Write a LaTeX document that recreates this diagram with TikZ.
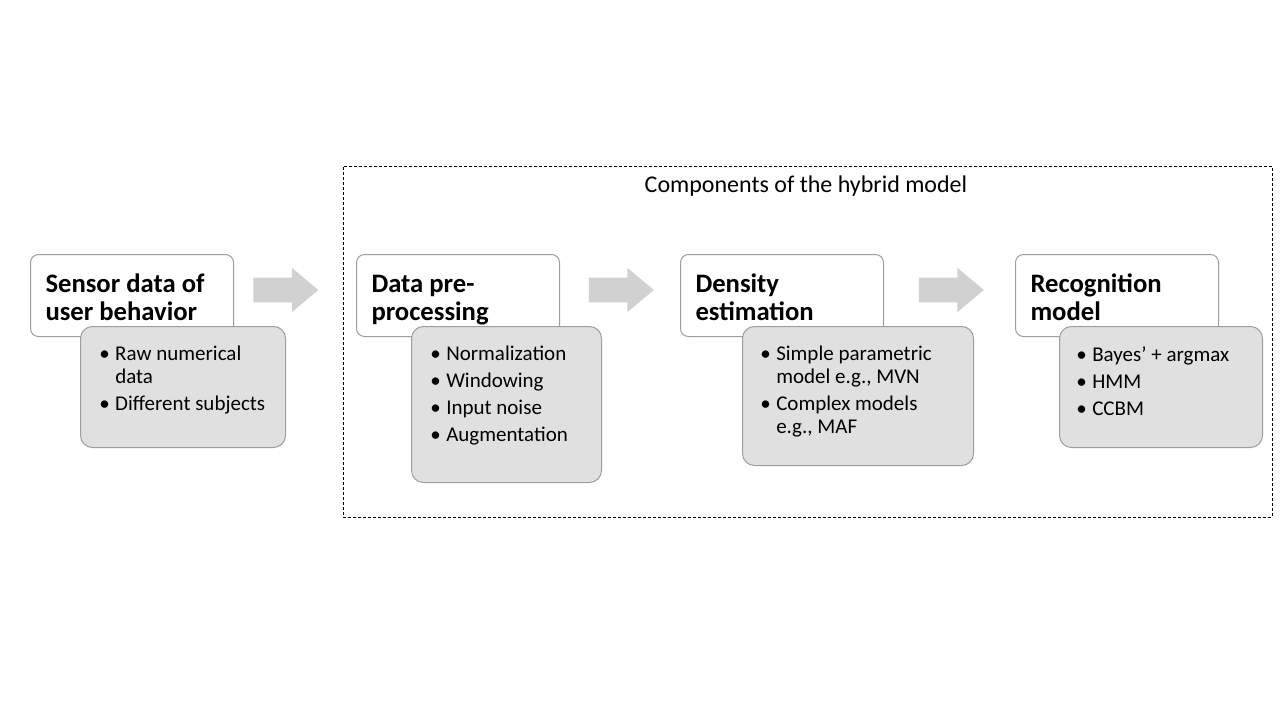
\documentclass[tikz,border=0pt]{standalone}
\usepackage{fontspec}
\setmainfont{Carlito}
\usetikzlibrary{positioning,calc,shapes.arrows}

\newcommand{\bitem}[1]{\makebox[12pt][l]{\textbullet}#1}
\newcommand{\bcont}[1]{\hspace*{12pt}#1}

\begin{document}
\begin{tikzpicture}[x=0.75pt, y=-0.75pt,
    stagebox/.style={draw=black!38, fill=white, rounded corners=6pt, line width=0.75pt, minimum width=152.25pt, minimum height=61.5pt, inner xsep=11.25pt, inner ysep=0pt, text width=129.75pt, anchor=north west, align=flush left, font=\fontsize{20}{21}\selectfont\bfseries, execute at begin node={\rule{0pt}{20.8pt}}, execute at end node={\rule[-5pt]{0pt}{0pt}}},
    detailbox/.style={draw=black!38, fill=black!12, rounded corners=9pt, line width=0.75pt, anchor=north west},
    detailtext/.style={anchor=north west, align=flush left, inner sep=0pt, font=\fontsize{15.75}{17.25}\selectfont},
    flowarrow/.style={single arrow, fill=black!18, draw=none, minimum height=48.75pt, inner xsep=0pt, inner ysep=9pt, single arrow head extend=7.5pt, single arrow tip angle=80},
    groupbox/.style={draw=black, dash pattern=on 2.25pt off 1.5pt, line width=0.6pt, anchor=north west, minimum width=696.75pt, minimum height=263.25pt}
]
    \useasboundingbox[fill=white] (0,0) rectangle (1280,720);

    % Hybrid model frame
    \node[groupbox] (group) at (343,166) {};
    \node[font=\fontsize{18}{20}\selectfont] (header) at (806,186) {Components of the hybrid model};

    % Stages
    \node[stagebox] (sensor) at (30,254) {Sensor data of\\user behavior};
    \node[stagebox] (prep) at (356,254) {Data pre-\\processing};
    \node[stagebox] (dens) at (680,254) {Density\\estimation};
    \node[stagebox] (recog) at (1015,254) {Recognition\\model};

    % Details under each stage
    \node[detailbox, minimum width=153.75pt, minimum height=90.75pt] (sensorD) at (80,326) {};
    \node[detailbox, minimum width=142.5pt, minimum height=117pt] (prepD) at (411,326) {};
    \node[detailbox, minimum width=173.25pt, minimum height=104.25pt] (densD) at (742,326) {};
    \node[detailbox, minimum width=152.25pt, minimum height=90.75pt] (recogD) at (1059,326) {};

    \node[detailtext] (sensorT) at (99,346) {\bitem{Raw numerical}\\\bcont{data}\\[3pt]\bitem{Different subjects}};
    \node[detailtext] (prepT) at (430,346) {\bitem{Normalization}\\[3pt]\bitem{Windowing}\\[3pt]\bitem{Input noise}\\[3pt]\bitem{Augmentation}};
    \node[detailtext] (densT) at (760,346) {\bitem{Simple parametric}\\\bcont{model e.g., MVN}\\[3pt]\bitem{Complex models}\\\bcont{e.g., MAF}};
    \node[detailtext] (recogT) at (1076,346) {\bitem{Bayes’ + argmax}\\[3pt]\bitem{HMM}\\[3pt]\bitem{CCBM}};

    % Flow arrows
    \node[flowarrow] (a1) at (278.5,290) {};
    \node[flowarrow] (a2) at (614,290) {};
    \node[flowarrow] (a3) at (944,290) {};
\end{tikzpicture}
\end{document}
